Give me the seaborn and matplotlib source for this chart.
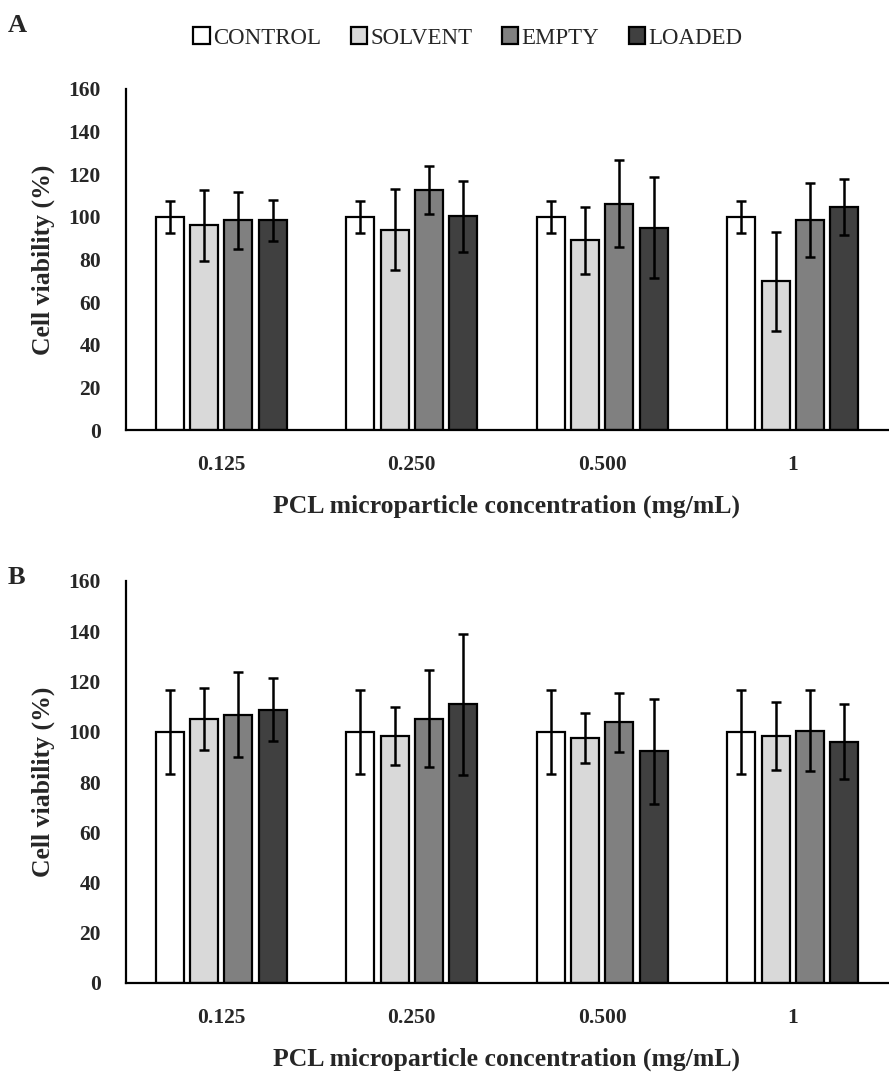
import matplotlib
matplotlib.use("Agg")
import matplotlib.pyplot as plt
import seaborn as sns
import pandas as pd
import numpy as np

# ---- data ----
concentrations = ["0.125", "0.250", "0.500", "1"]
groups = ["CONTROL", "SOLVENT", "EMPTY", "LOADED"]
colors = ["#FFFFFF", "#D9D9D9", "#808080", "#404040"]

# Panel A means / SD (per group, per concentration)
a_control = [100.0, 100.0, 100.0, 100.0]
a_solvent = [96.0, 94.0, 89.0, 69.8]
a_empty = [98.3, 112.7, 106.2, 98.5]
a_loaded = [98.3, 100.2, 95.0, 104.6]
a_control_sd = [7.5, 7.5, 7.5, 7.5]
a_solvent_sd = [16.5, 19.0, 15.7, 23.2]
a_empty_sd = [13.5, 11.3, 20.4, 17.5]
a_loaded_sd = [9.5, 16.6, 23.8, 13.3]

# Panel B means / SD
b_control = [100.0, 100.0, 100.0, 100.0]
b_solvent = [105.0, 98.3, 97.6, 98.2]
b_empty = [106.8, 105.2, 103.7, 100.4]
b_loaded = [108.8, 110.9, 92.2, 96.0]
b_control_sd = [16.7, 16.7, 16.7, 16.7]
b_solvent_sd = [12.4, 11.4, 9.9, 13.6]
b_empty_sd = [17.0, 19.2, 11.7, 16.2]
b_loaded_sd = [12.5, 28.0, 20.9, 15.0]

yticks = [0, 20, 40, 60, 80, 100, 120, 140, 160]
xlabel = "PCL microparticle concentration (mg/mL)"
ylabel = "Cell viability (%)"


def make_df(means, sds):
    rows = []
    for g, m, s in zip(groups, means, sds):
        for c, v, e in zip(concentrations, m, s):
            rows.append({"conc": c, "group": g, "viability": v, "sd": e})
    return pd.DataFrame(rows)


df_a = make_df([a_control, a_solvent, a_empty, a_loaded],
               [a_control_sd, a_solvent_sd, a_empty_sd, a_loaded_sd])
df_b = make_df([b_control, b_solvent, b_empty, b_loaded],
               [b_control_sd, b_solvent_sd, b_empty_sd, b_loaded_sd])

sns.set_style("white")
plt.rcParams["font.family"] = ["Liberation Serif", "DejaVu Serif"]

W, H = 889, 1073
fig = plt.figure(figsize=(W / 100, H / 100), dpi=100)
ax_a = fig.add_axes([126 / W, 1 - 430 / H, 762 / W, (430 - 89) / H])
ax_b = fig.add_axes([126 / W, 1 - 983 / H, 762 / W, (983 - 581) / H])


def draw(ax, df):
    sns.barplot(data=df, x="conc", y="viability", hue="group",
                order=concentrations, hue_order=groups,
                palette=dict(zip(groups, colors)), edgecolor="black",
                linewidth=1.6, width=0.72, gap=0.18, errorbar=None,
                saturation=1, ax=ax)
    for cont, g in zip(ax.containers, groups):
        sub = df[df["group"] == g].set_index("conc").loc[concentrations]
        xs = [p.get_x() + p.get_width() / 2 for p in cont.patches]
        hs = [p.get_height() for p in cont.patches]
        ax.errorbar(xs, hs, yerr=sub["sd"].values, fmt="none",
                    ecolor="black", elinewidth=1.8, capsize=3.6,
                    capthick=1.8, zorder=5)
    ax.set_ylim(0, 160)
    ax.set_xlim(-0.5, 3.5)
    ax.set_yticks(yticks)
    ax.set_yticklabels([str(t) for t in yticks], fontsize=15.5, fontweight="bold")
    ax.set_xticks(range(len(concentrations)))
    ax.set_xticklabels(concentrations, fontsize=15.5, fontweight="bold")
    ax.tick_params(axis="y", length=0, pad=18)
    ax.tick_params(axis="x", length=0, pad=18)
    ax.set_xlabel(xlabel, fontsize=18.5, fontweight="bold", labelpad=14)
    ax.set_ylabel(ylabel, fontsize=18.5, fontweight="bold", labelpad=10)
    for s in ["top", "right"]:
        ax.spines[s].set_visible(False)
    for s in ["left", "bottom"]:
        ax.spines[s].set_color("black")
        ax.spines[s].set_linewidth(1.6)
    ax.grid(False)


draw(ax_a, df_a)
draw(ax_b, df_b)

handles, labels = ax_a.get_legend_handles_labels()
ax_a.get_legend().remove()
ax_b.get_legend().remove()
fig.legend(handles, labels, loc="center", bbox_to_anchor=(468 / W, 1 - 38 / H),
           ncol=4, frameon=False, fontsize=16.5, handlelength=0.7,
           handleheight=0.7, handletextpad=0.15, columnspacing=1.3,
           borderaxespad=0)

fig.text(8 / W, 1 - 25 / H, "A", fontsize=19, fontweight="bold",
         va="center", ha="left")
fig.text(8 / W, 1 - 577 / H, "B", fontsize=19, fontweight="bold",
         va="center", ha="left")

fig.savefig("out.png", dpi=100, facecolor="white")
